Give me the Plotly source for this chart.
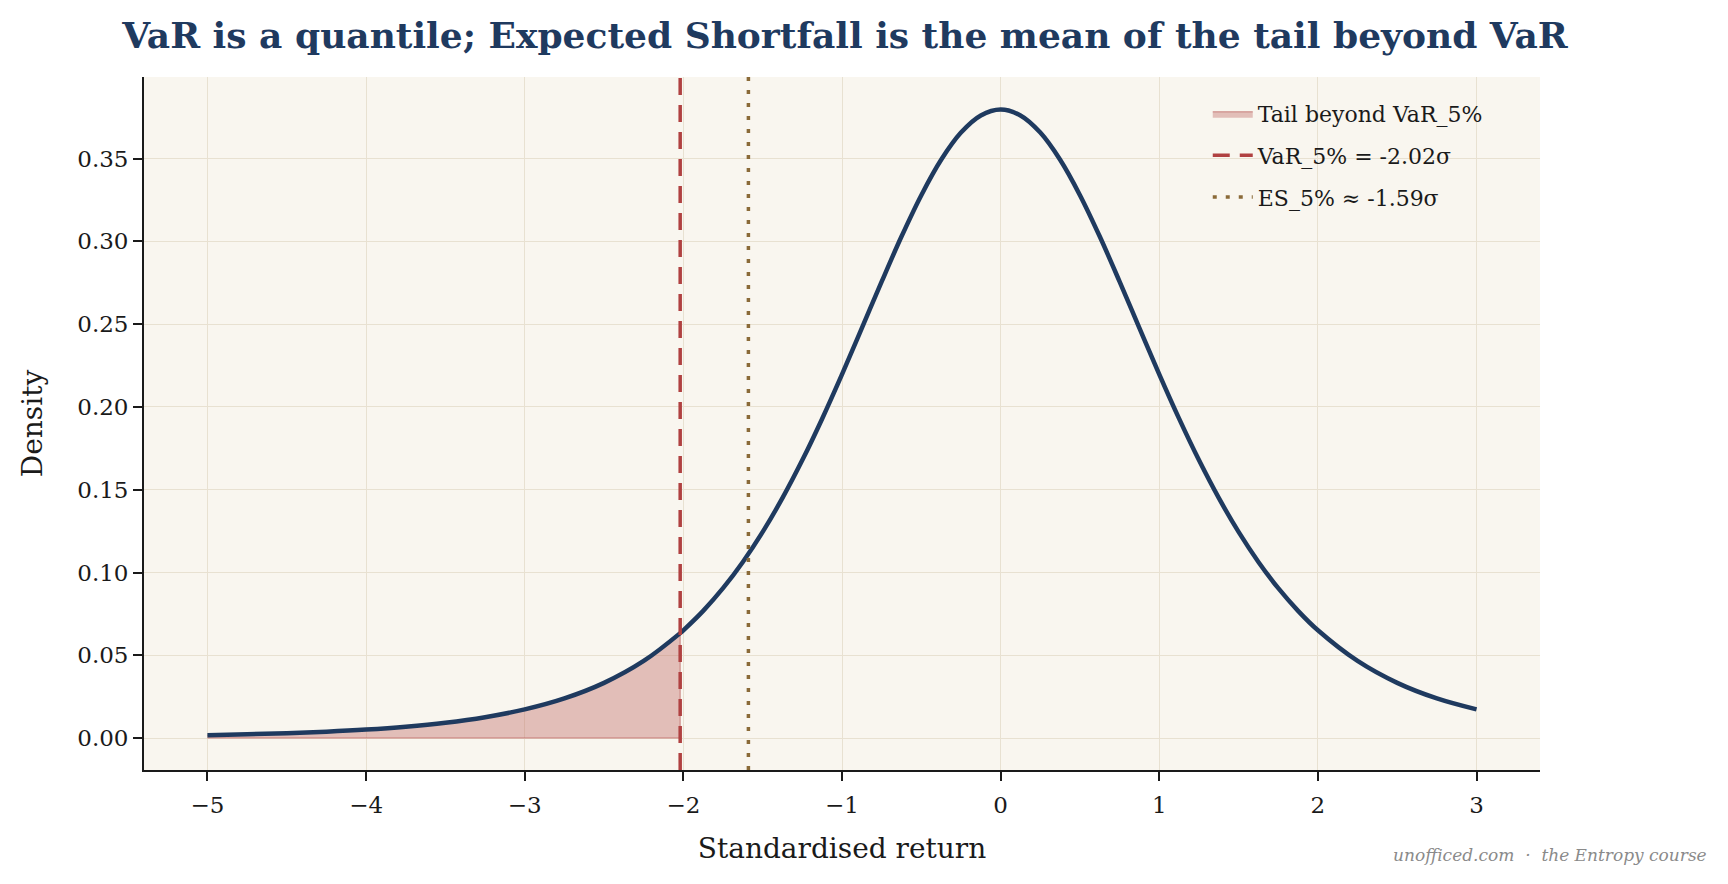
import plotly.graph_objects as go

# ---- data ----
returns = [-5.0, -4.75, -4.5, -4.25, -4.0, -3.75, -3.5, -3.25, -3.0, -2.75, -2.5, -2.25, -2.02,
           -2.0, -1.875, -1.75, -1.625, -1.5, -1.375, -1.25, -1.125, -1.0, -0.875, -0.75,
           -0.625, -0.5, -0.375, -0.25, -0.125, 0.0,
           0.125, 0.25, 0.375, 0.5, 0.625, 0.75, 0.875, 1.0, 1.125, 1.25, 1.375, 1.5,
           1.625, 1.75, 1.875, 2.0, 2.25, 2.5, 2.75, 3.0]
density = [0.00176, 0.00227, 0.00295, 0.00387, 0.00512, 0.00685, 0.00924, 0.01259, 0.01729,
           0.02393, 0.03333, 0.04657, 0.06338,
           0.06509, 0.07684, 0.09054, 0.10638, 0.12452, 0.14503, 0.16789, 0.19291, 0.21968,
           0.24758, 0.27569, 0.30292, 0.32792, 0.34930, 0.36572, 0.37607, 0.37961,
           0.37607, 0.36572, 0.34930, 0.32792, 0.30292, 0.27569, 0.24758, 0.21968, 0.19291,
           0.16789, 0.14503, 0.12452, 0.10638, 0.09054, 0.07684, 0.06509,
           0.04657, 0.03333, 0.02393, 0.01729]
var_5 = -2.02
es_5 = -1.59
x_ticks = [-5, -4, -3, -2, -1, 0, 1, 2, 3]
y_ticks = [0.00, 0.05, 0.10, 0.15, 0.20, 0.25, 0.30, 0.35]

NAVY = "#1f3a5f"
RED = "#b04141"
BROWN = "#8a6a38"
FONT = "DejaVu Serif"

tail_x = [x for x in returns if x <= var_5]
tail_y = [y for x, y in zip(returns, density) if x <= var_5]

fig = go.Figure()
fig.add_trace(go.Scatter(
    x=tail_x + [var_5, tail_x[0]], y=tail_y + [0, 0],
    fill="toself", fillcolor="rgba(190,100,95,0.38)",
    line=dict(color="rgba(190,100,95,0.5)", width=1.5),
    mode="lines", name="Tail beyond VaR_5%", legendgroup="a", hoverinfo="skip"))
fig.add_trace(go.Scatter(
    x=returns, y=density, mode="lines",
    line=dict(color=NAVY, width=4.5, shape="spline", smoothing=1.0),
    showlegend=False))
fig.add_trace(go.Scatter(x=[None], y=[None], mode="lines", legendgroup="b",
                         line=dict(color=RED, width=3.5, dash="17px,10px"),
                         name="VaR_5% = -2.02σ"))
fig.add_trace(go.Scatter(x=[None], y=[None], mode="lines", legendgroup="c",
                         line=dict(color=BROWN, width=3.5, dash="4px,9px"),
                         name="ES_5% ≈ -1.59σ"))

fig.add_shape(type="line", xref="x", yref="y domain", x0=var_5, x1=var_5, y0=0, y1=1,
              line=dict(color=RED, width=3.5, dash="17px,10px"))
fig.add_shape(type="line", xref="x", yref="y domain", x0=es_5, x1=es_5, y0=0, y1=1,
              line=dict(color=BROWN, width=3.5, dash="4px,9px"))

fig.update_layout(
    width=1728, height=884,
    margin=dict(l=144, r=188, t=77, b=114),
    paper_bgcolor="white", plot_bgcolor="#f9f6ef",
    font=dict(family=FONT, color="#1a1a1a", size=23),
    title=dict(text="<b>VaR is a quantile; Expected Shortfall is the mean of the tail beyond VaR</b>",
               x=0.489, xref="container", xanchor="center",
               y=1 - 35 / 884, yref="container", yanchor="middle",
               font=dict(family=FONT, size=36, color=NAVY)),
    showlegend=True,
    legend=dict(x=0.762, y=0.977, xanchor="left", yanchor="top",
                bgcolor="rgba(0,0,0,0)", font=dict(size=22, family=FONT),
                itemwidth=40, tracegroupgap=10, traceorder="grouped"),
    xaxis=dict(range=[-5.4, 3.4], tickvals=x_ticks, showgrid=True, gridcolor="#e8e1d1",
               gridwidth=1, zeroline=False, showline=True, linecolor="#1a1a1a", linewidth=1.8,
               ticks="outside", ticklen=9, tickwidth=1.8, tickcolor="#1a1a1a",
               tickfont=dict(size=23), ticklabelstandoff=4,
               title=dict(text="Standardised return", font=dict(size=28), standoff=22)),
    yaxis=dict(range=[-0.0193, 0.3993], tickvals=y_ticks, tickformat=".2f", showgrid=True,
               gridcolor="#e8e1d1", gridwidth=1, zeroline=False, showline=True,
               linecolor="#1a1a1a", linewidth=1.8, ticks="outside", ticklen=9, tickwidth=1.8,
               tickcolor="#1a1a1a", tickfont=dict(size=23),
               title=dict(text="Density", font=dict(size=28), standoff=26)),
    annotations=[dict(text="<i>unofficed.com  ·  the Entropy course</i>", xref="paper",
                      yref="paper", x=(1709 - 144) / 1396, y=(770 - 855) / 692,
                      xanchor="right", yanchor="middle", showarrow=False,
                      font=dict(size=17, color="#8a8a8a", family=FONT))],
)

fig.write_html("out.html")
